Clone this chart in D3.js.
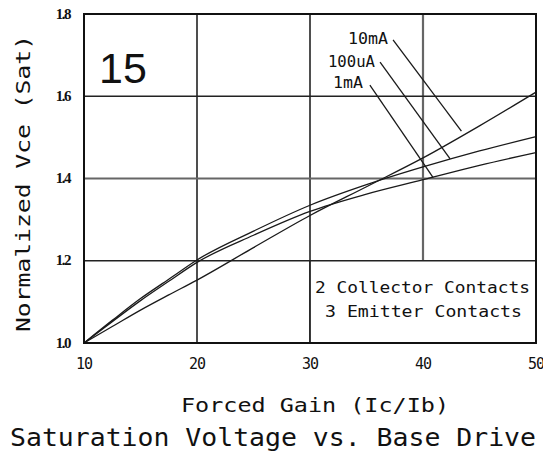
<!DOCTYPE html>
<html>
<head>
<meta charset="utf-8">
<script src="https://cdn.jsdelivr.net/npm/d3@7"></script>
<style>
  body { margin: 0; background: #fff; }
  svg text { fill: #111; }
  .cad { font-family: "DejaVu Sans Mono", monospace; }
</style>
</head>
<body>
<svg id="chart"></svg>
<script>
// Data
const gain = [10, 12.5, 15, 17.5, 20, 25, 30, 35, 40, 45, 50];
const vce10mA = [1.0, 1.04, 1.08, 1.117, 1.153, 1.232, 1.31, 1.38, 1.45, 1.528, 1.61];
const vce100uA = [1.0, 1.055, 1.108, 1.155, 1.202, 1.272, 1.335, 1.385, 1.428, 1.467, 1.502];
const vce1mA = [1.0, 1.052, 1.103, 1.15, 1.196, 1.262, 1.32, 1.362, 1.397, 1.432, 1.463];
const seriesNames = ["10mA", "100uA", "1mA"];

const xTicks = [10, 20, 30, 40, 50];
const yTicks = [1.0, 1.2, 1.4, 1.6, 1.8];

// label right edge (data coords), leader start and leader end on the curve
const labelPos = [[36.9, 1.739], [35.75, 1.683], [34.7, 1.632]];
const leaderStart = [[37.35, 1.737], [36.2, 1.683], [35.3, 1.627]];
const leaderEnd = [[43.4, 1.515], [42.4, 1.448], [40.9, 1.402]];

// Graph Dimensions
const totalWidth = 543;
const totalHeight = 456;
const margin = { top: 14, right: 7, bottom: 113, left: 84 };
const graphWidth = totalWidth - margin.left - margin.right;
const graphHeight = totalHeight - margin.top - margin.bottom;

const xScale = d3.scaleLinear().domain([10, 50]).range([0, graphWidth]);
const yScale = d3.scaleLinear().domain([1.0, 1.8]).range([graphHeight, 0]);

const root = d3.select("#chart")
  .attr("width", totalWidth)
  .attr("height", totalHeight);

const svg = root.append("g")
  .attr("transform", "translate(" + margin.left + "," + margin.top + ")");

// grid lines
const heavyX = [40];
const heavyY = [1.4];
svg.append("g")
  .selectAll("line")
  .data(xTicks.slice(1, -1))
  .enter()
  .append("line")
  .attr("x1", d => xScale(d))
  .attr("x2", d => xScale(d))
  .attr("y1", 0)
  .attr("y2", graphHeight)
  .attr("stroke", d => heavyX.includes(d) ? "#666" : "#222")
  .attr("stroke-width", d => heavyX.includes(d) ? 2.2 : 1.6);

svg.append("g")
  .selectAll("line")
  .data(yTicks.slice(1, -1))
  .enter()
  .append("line")
  .attr("x1", 0)
  .attr("x2", graphWidth)
  .attr("y1", d => yScale(d))
  .attr("y2", d => yScale(d))
  .attr("stroke", d => heavyY.includes(d) ? "#666" : "#222")
  .attr("stroke-width", d => heavyY.includes(d) ? 2.2 : 1.6);

// legend box (lower right)
svg.append("rect")
  .attr("x", xScale(30) + 0.5)
  .attr("y", yScale(1.2))
  .attr("width", xScale(50) - xScale(30))
  .attr("height", yScale(1.0) - yScale(1.2))
  .attr("fill", "#fff");
svg.append("line")
  .attr("x1", xScale(30)).attr("x2", xScale(30))
  .attr("y1", yScale(1.2)).attr("y2", yScale(1.0))
  .attr("stroke", "#222").attr("stroke-width", 1.6);
svg.append("line")
  .attr("x1", xScale(30)).attr("x2", xScale(50))
  .attr("y1", yScale(1.2)).attr("y2", yScale(1.2))
  .attr("stroke", "#222").attr("stroke-width", 1.6);

svg.append("text")
  .attr("class", "cad")
  .attr("x", 231).attr("y", 279)
  .attr("font-size", 15)
  .attr("textLength", 215)
  .attr("lengthAdjust", "spacingAndGlyphs")
  .text("2 Collector Contacts");
svg.append("text")
  .attr("class", "cad")
  .attr("x", 241).attr("y", 303)
  .attr("font-size", 15)
  .attr("textLength", 197)
  .attr("lengthAdjust", "spacingAndGlyphs")
  .text("3 Emitter Contacts");

// curves
const lineFunction = d3.line()
  .x((d, i) => xScale(gain[i]))
  .y(d => yScale(d))
  .curve(d3.curveMonotoneX);

[vce10mA, vce100uA, vce1mA].forEach(values => {
  svg.append("path")
    .attr("d", lineFunction(values))
    .attr("fill", "none")
    .attr("stroke", "#1a1a1a")
    .attr("stroke-width", 1.3);
});

// leader lines and labels
const labelWidths = [40, 47, 30];
seriesNames.forEach((name, i) => {
  svg.append("line")
    .attr("x1", xScale(leaderStart[i][0]))
    .attr("y1", yScale(leaderStart[i][1]))
    .attr("x2", xScale(leaderEnd[i][0]))
    .attr("y2", yScale(leaderEnd[i][1]))
    .attr("stroke", "#1a1a1a")
    .attr("stroke-width", 1.3);
  svg.append("text")
    .attr("class", "cad")
    .attr("x", xScale(labelPos[i][0]) - labelWidths[i])
    .attr("y", yScale(labelPos[i][1]))
    .attr("dy", "0.35em")
    .attr("font-size", 15)
    .attr("textLength", labelWidths[i])
    .attr("lengthAdjust", "spacingAndGlyphs")
    .text(name);
});

// frame
svg.append("rect")
  .attr("width", graphWidth)
  .attr("height", graphHeight)
  .attr("fill", "none")
  .attr("stroke", "#111")
  .attr("stroke-width", 2);

// panel number
svg.append("text")
  .attr("x", 15).attr("y", 69)
  .attr("font-family", "Liberation Sans, Arial, sans-serif")
  .attr("font-size", 43)
  .text("15");

// x axis tick labels
svg.append("g")
  .selectAll("text")
  .data(xTicks)
  .enter()
  .append("text")
  .attr("class", "cad")
  .attr("x", d => xScale(d))
  .attr("y", graphHeight + 26)
  .attr("text-anchor", "middle")
  .attr("font-size", 15)
  .attr("letter-spacing", -1)
  .text(d => d);

// y axis tick labels
svg.append("g")
  .selectAll("text")
  .data(yTicks)
  .enter()
  .append("text")
  .attr("x", -14)
  .attr("y", d => yScale(d))
  .attr("dy", "0.3em")
  .attr("text-anchor", "end")
  .attr("font-family", "Liberation Serif, serif")
  .attr("font-size", 15)
  .attr("font-weight", "bold")
  .attr("letter-spacing", -1.5)
  .attr("fill", "#333")
  .text(d => d.toFixed(1));

// axis titles
root.append("text")
  .attr("class", "cad")
  .attr("x", 181).attr("y", 412)
  .attr("font-size", 19)
  .attr("textLength", 268)
  .attr("lengthAdjust", "spacingAndGlyphs")
  .text("Forced Gain (Ic/Ib)");

root.append("text")
  .attr("class", "cad")
  .attr("transform", "translate(30,332) rotate(-90)")
  .attr("font-size", 19)
  .attr("textLength", 297)
  .attr("lengthAdjust", "spacingAndGlyphs")
  .text("Normalized Vce (Sat)");

root.append("text")
  .attr("class", "cad")
  .attr("x", 10).attr("y", 446)
  .attr("font-size", 24)
  .attr("textLength", 526)
  .attr("lengthAdjust", "spacingAndGlyphs")
  .text("Saturation Voltage vs. Base Drive");
</script>
</body>
</html>
